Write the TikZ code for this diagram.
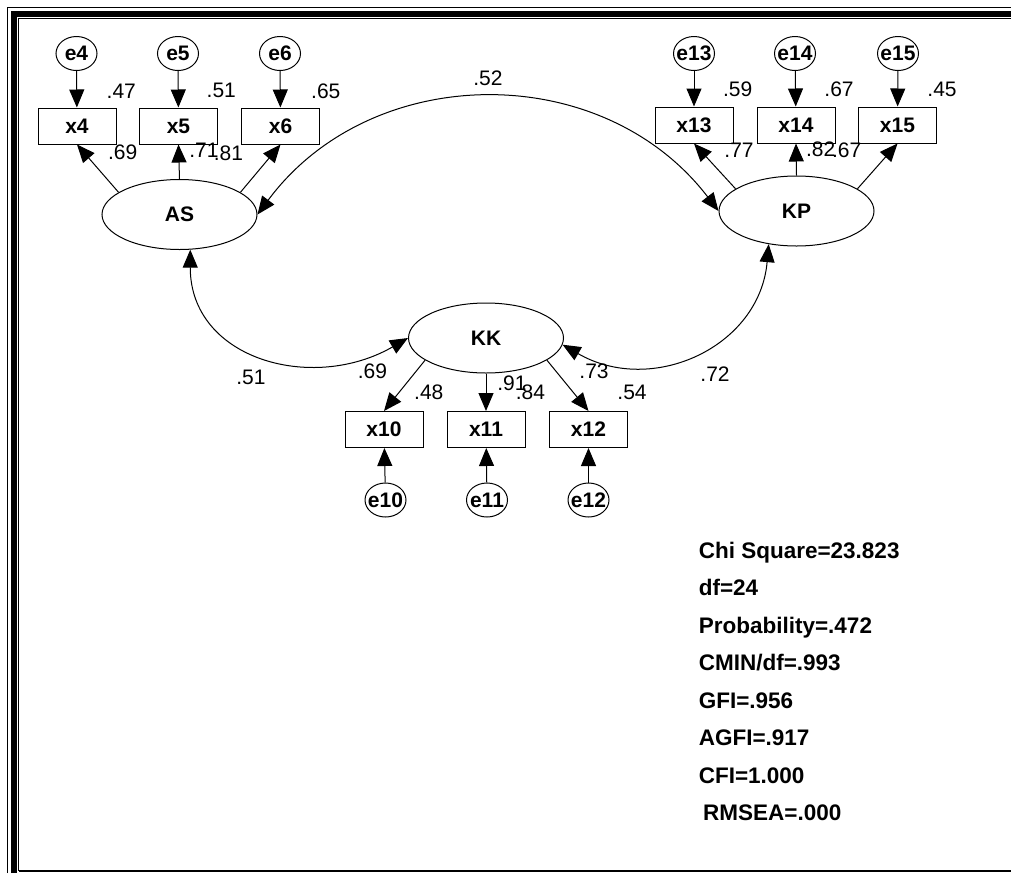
\documentclass[tikz,border=0pt]{standalone}
\usepackage{fontspec}
\setmainfont{Liberation Sans}
\usetikzlibrary{arrows.meta,shapes.geometric}
\newcommand{\nobox}[1]{\makebox[0pt]{#1}}

\begin{document}
\begin{tikzpicture}[x=1pt, y=1pt, line width=1pt,
    >={Triangle[length=18pt,width=15pt]},
    latent/.style={draw, ellipse, minimum width=155pt, minimum height=70pt, inner sep=0pt,
        font=\fontsize{21}{25}\selectfont\bfseries},
    observed/.style={draw, rectangle, minimum width=78pt, minimum height=36pt, inner sep=0pt,
        font=\fontsize{21}{25}\selectfont\bfseries},
    errvar/.style={draw, ellipse, minimum width=41pt, minimum height=34pt, inner sep=0pt,
        font=\fontsize{21}{25}\selectfont\bfseries},
    coef/.style={inner sep=0pt, font=\fontsize{21}{25}\selectfont},
    fitstat/.style={anchor=base west, inner sep=0pt, font=\fontsize{22.5}{27}\selectfont\bfseries}]
                    \useasboundingbox (0,0) rectangle (1011,-873);
                    % Border
                    \draw[line width=1.5pt] (7.5,-873) |- (1011,-7.5);
                    \draw[line width=6pt] (14.3,-873) |- (1011,-14.3);
                    \draw (1011,-18.8) -| (18.8,-871);
                    \draw[line width=2pt] (18.8,-871) -- (1011,-871);
                    % Latent variables
                    \node[latent] (AS) at (179.5,-214.5) {AS};
                    \node[latent] (KP) at (796.5,-211) {KP};
                    \node[latent] (KK) at (486,-338) {KK};
                    % Indicators
                    \node[observed] (x4) at (77,-126) {x4};
                    \node[observed] (x5) at (178.5,-126) {x5};
                    \node[observed] (x6) at (280.5,-126) {x6};
                    \node[observed] (x13) at (694,-125) {x13};
                    \node[observed] (x14) at (796,-125) {x14};
                    \node[observed] (x15) at (897.5,-125) {x15};
                    \node[observed] (x10) at (384,-429.5) {x10};
                    \node[observed] (x11) at (486,-429.5) {x11};
                    \node[observed] (x12) at (588.5,-429.5) {x12};
                    % Errors
                    \node[errvar] (e4) at (76.5,-53.5) {\nobox{e4}};
                    \node[errvar] (e5) at (178,-53.5) {\nobox{e5}};
                    \node[errvar] (e6) at (280,-53.5) {\nobox{e6}};
                    \node[errvar] (e13) at (694,-53.5) {\nobox{e13}};
                    \node[errvar] (e14) at (795,-53.5) {\nobox{e14}};
                    \node[errvar] (e15) at (898,-53.5) {\nobox{e15}};
                    \node[errvar] (e10) at (385.5,-500) {\nobox{e10}};
                    \node[errvar] (e11) at (487,-500) {\nobox{e11}};
                    \node[errvar] (e12) at (588.5,-500) {\nobox{e12}};
                    % Error arrows
                    \draw[->] (e4) -- (x4);
                    \draw[->] (e5) -- (x5);
                    \draw[->] (e6) -- (x6);
                    \draw[->] (e13) -- (x13);
                    \draw[->] (e14) -- (x14);
                    \draw[->] (e15) -- (x15);
                    \draw[->] (e10) -- (x10);
                    \draw[->] (e11) -- (x11);
                    \draw[->] (e12) -- (x12);
                    % Loadings
                    \draw[->] (AS.160) -- (x4.south);
                    \draw[->] (AS.north) -- (x5.south);
                    \draw[->] (AS.20) -- (x6.south);
                    \draw[->] (KP.160) -- (x13.south);
                    \draw[->] (KP.north) -- (x14.south);
                    \draw[->] (KP.20) -- (x15.south);
                    \draw[->] (KK.200) -- (x10.north);
                    \draw[->] (KK.south) -- (x11.north);
                    \draw[->] (KK.340) -- (x12.north);
                    % Correlations
                    \draw[<->] (AS.east) to[bend left=53, looseness=1.06] (KP.west);
                    \draw[<->] (AS.-73) to[out=-90, in=210, looseness=1.2] (KK.west);
                    \draw[<->] (KP.-130) to[out=-95, in=-30, looseness=1.15] (KK.-5);
                    % Coefficients
                    \node[coef] (r2x4) at (121.3,-90.8) {.47};
                    \node[coef] (r2x5) at (221.3,-90.8) {.51};
                    \node[coef] (r2x6) at (325.8,-90.8) {.65};
                    \node[coef] (lx4) at (122.7,-152.5) {.69};
                    \node[coef] (lx5) at (204,-150) {.71};
                    \node[coef] (lx6) at (228.5,-153.3) {.81};
                    \node[coef] (r2x13) at (737.7,-89.2) {.59};
                    \node[coef] (r2x14) at (839,-89.2) {.67};
                    \node[coef] (r2x15) at (942,-89.2) {.45};
                    \node[coef] (lx13) at (739,-150.5) {.77};
                    \node[coef] (lx14) at (820.7,-148.8) {.82};
                    \node[coef] (lx15) at (846.7,-150.5) {.67};
                    \node[coef] (lx10) at (372.5,-370.8) {.69};
                    \node[coef] (r2x10) at (428.8,-392.5) {.48};
                    \node[coef] (lx11) at (512,-383) {.91};
                    \node[coef] (r2x11) at (530.5,-392.5) {.84};
                    \node[coef] (lx12) at (594,-370.8) {.73};
                    \node[coef] (r2x12) at (632,-392.5) {.54};
                    \node[coef] (rASKP) at (488,-78.3) {.52};
                    \node[coef] (rASKK) at (251,-377) {.51};
                    \node[coef] (rKPKK) at (715,-374) {.72};
                    % Fit statistics
                    \node[fitstat] (chi) at (698.3,-558.3) {Chi Square=23.823};
                    \node[fitstat] (df) at (698.3,-595.5) {df=24};
                    \node[fitstat] (prob) at (698.3,-633.3) {Probability=.472};
                    \node[fitstat] (cmin) at (698.3,-670.5) {CMIN/df=.993};
                    \node[fitstat] (gfi) at (698.3,-708.3) {GFI=.956};
                    \node[fitstat] (agfi) at (698.3,-745.8) {AGFI=.917};
                    \node[fitstat] (cfi) at (698.3,-783.3) {CFI=1.000};
                    \node[fitstat] (rmsea) at (702.7,-820.7) {RMSEA=.000};
\end{tikzpicture}
\end{document}
